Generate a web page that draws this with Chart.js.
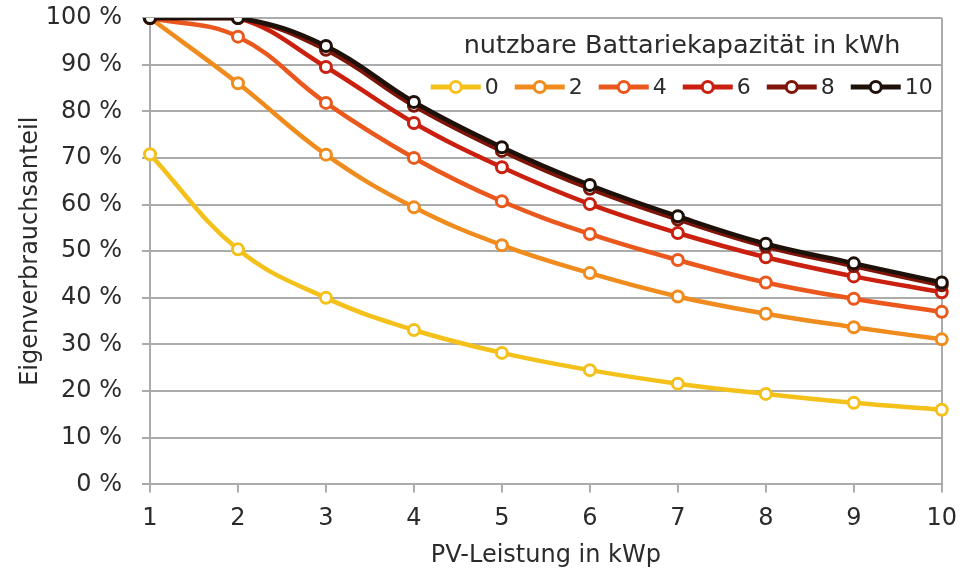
<!DOCTYPE html>
<html>
<head>
<meta charset="utf-8">
<script src="https://cdn.jsdelivr.net/npm/chart.js@4.4.1/dist/chart.umd.min.js"></script>
<style>
  html,body{margin:0;padding:0;background:#fff;}
  #wrap{width:969px;height:571px;position:relative;}
</style>
</head>
<body>
<div id="wrap"><canvas id="chart"></canvas></div>
<script>
const pvPower = ['1','2','3','4','5','6','7','8','9','10'];
const capacities = ['0','2','4','6','8','10'];
const cap0  = [70.8, 50.4, 40.0, 33.1, 28.2, 24.5, 21.6, 19.4, 17.5, 16.0];
const cap2  = [100, 86.0, 70.7, 59.4, 51.3, 45.3, 40.3, 36.6, 33.7, 31.1];
const cap4  = [100, 96.0, 81.8, 70.0, 60.7, 53.7, 48.1, 43.3, 39.8, 37.0];
const cap6  = [100, 100, 89.5, 77.5, 68.0, 60.1, 53.9, 48.7, 44.6, 41.2];
const cap8  = [100, 100, 93.2, 81.2, 71.5, 63.4, 56.8, 51.0, 46.8, 42.7];
const cap10 = [100, 100, 94.0, 82.0, 72.3, 64.2, 57.5, 51.6, 47.4, 43.3];
const colors = ['#f4c01a','#f08b1d','#ea581d','#c9200f','#7e1509','#1d1109'];

const legendTitle = 'nutzbare Battariekapazität in kWh';
const FONT = '"DejaVu Sans", Verdana, sans-serif';
const TEXT = '#2b2b2b';
const GRID = '#ababab';

const series = [cap0, cap2, cap4, cap6, cap8, cap10];

// legend drawn inside the plot, top right, like the Excel original
const insideLegend = {
  id:'insideLegend',
  afterDatasetsDraw(chart){
    const {ctx, chartArea} = chart;
    ctx.save();
    ctx.textBaseline = 'middle';
    ctx.font = '25.5px ' + FONT;
    ctx.fillStyle = TEXT;
    ctx.textAlign = 'center';
    ctx.fillText(legendTitle, 682, 46);

    ctx.font = '22px ' + FONT;
    ctx.textAlign = 'left';
    const lineW = 50, gap = 4, itemGap = 16;
    let widths = capacities.map(c=>ctx.measureText(c).width);
    let total = 0;
    widths.forEach((w,i)=>{ total += lineW + gap + w + (i<widths.length-1?itemGap:0); });
    let x = chartArea.right - 9 - total;
    const yItems = 87;
    chart.data.datasets.forEach((ds,i)=>{
      ctx.strokeStyle = ds.borderColor;
      ctx.lineWidth = 5;
      ctx.beginPath();
      ctx.moveTo(x, yItems);
      ctx.lineTo(x + lineW, yItems);
      ctx.stroke();
      ctx.beginPath();
      ctx.arc(x + lineW/2, yItems, 5.5, 0, Math.PI*2);
      ctx.fillStyle = '#fff';
      ctx.fill();
      ctx.lineWidth = 3;
      ctx.stroke();
      ctx.fillStyle = TEXT;
      ctx.fillText(ds.label, x + lineW + gap, yItems + 1);
      x += lineW + gap + widths[i] + itemGap;
    });
    ctx.restore();
  }
};

const datasets = series.map((d,i)=>({
  label: capacities[i],
  data: d,
  borderColor: colors[i],
  backgroundColor: '#fff',
  borderWidth: 4.5,
  tension: 0.4,
  pointRadius: 5.5,
  pointBorderWidth: 3,
  pointBackgroundColor: '#fff',
  pointBorderColor: colors[i],
  order: series.length - i
}));

new Chart(document.getElementById('chart'), {
  type:'line',
  data:{ labels: pvPower, datasets },
  options:{
    responsive:true,
    maintainAspectRatio:false,
    animation:false,
    layout:{ padding:{ top:0, right:20, left:12, bottom:-3 } },
    plugins:{
      legend:{ display:false },
      tooltip:{ enabled:false }
    },
    scales:{
      x:{
        offset:false,
        grid:{
          color: c => c.index === pvPower.length-1 ? GRID : 'rgba(0,0,0,0)',
          tickColor: GRID,
          tickLength: 8,
          lineWidth: 2
        },
        border:{ color: GRID, width: 2 },
        ticks:{ color: TEXT, font:{ family: FONT, size: 24 }, padding: 12, maxRotation:0 },
        title:{ display:true, text:'PV-Leistung in kWp', color: TEXT, font:{ family: FONT, size: 24 }, padding:{ top:-4 } }
      },
      y:{
        min:0, max:100,
        afterFit: s => { s.width = 138; s.paddingTop = 18; },
        ticks:{
          stepSize:10, color: TEXT, font:{ family: FONT, size: 24 }, padding: 20,
          callback: v => v + ' %'
        },
        grid:{ color: GRID, tickColor: GRID, tickLength: 8, lineWidth: 2 },
        border:{ color: GRID, width: 2 },
        title:{ display:true, text:'Eigenverbrauchsanteil', color: TEXT, font:{ family: FONT, size: 24 }, padding:{ bottom:0 } }
      }
    }
  },
  plugins:[insideLegend]
});
</script>
</body>
</html>
